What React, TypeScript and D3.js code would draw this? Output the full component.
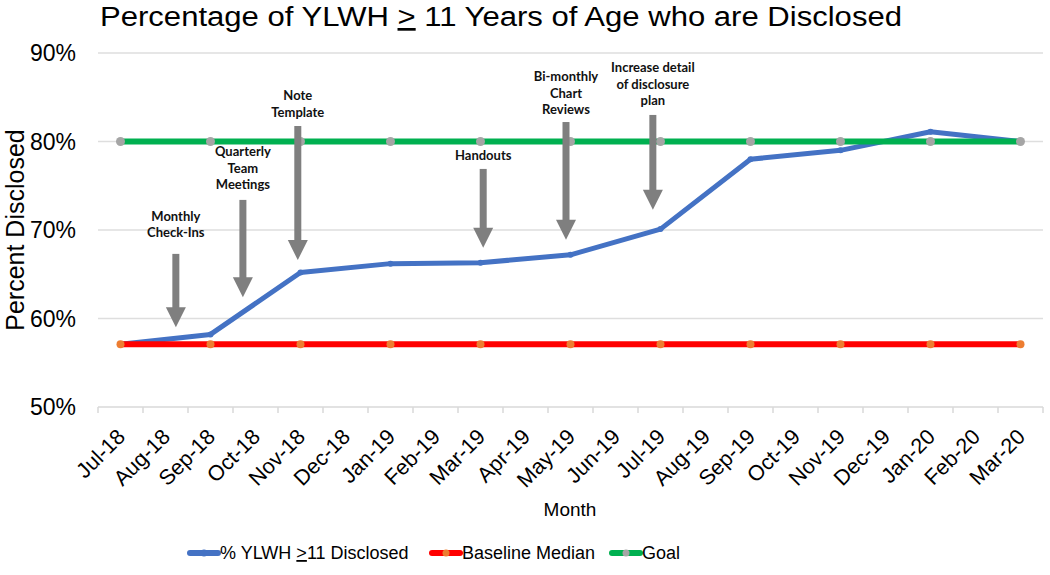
import { useEffect, useRef } from 'react';
import * as d3 from 'd3';

const months = [
  'Jul-18', 'Aug-18', 'Sep-18', 'Oct-18', 'Nov-18', 'Dec-18', 'Jan-19',
  'Feb-19', 'Mar-19', 'Apr-19', 'May-19', 'Jun-19', 'Jul-19', 'Aug-19',
  'Sep-19', 'Oct-19', 'Nov-19', 'Dec-19', 'Jan-20', 'Feb-20', 'Mar-20',
];

// months that have a measurement
const measuredMonths = [
  'Jul-18', 'Sep-18', 'Nov-18', 'Jan-19', 'Mar-19', 'May-19',
  'Jul-19', 'Sep-19', 'Nov-19', 'Jan-20', 'Mar-20',
];

const disclosed = [57.1, 58.2, 65.2, 66.2, 66.3, 67.2, 70.1, 78.0, 79.0, 81.1, 80.0];
const baselineMedian = [57.1, 57.1, 57.1, 57.1, 57.1, 57.1, 57.1, 57.1, 57.1, 57.1, 57.1];
const goal = [80, 80, 80, 80, 80, 80, 80, 80, 80, 80, 80];

const yTicks = [50, 60, 70, 80, 90];

// interventions: at = month index, values in percent
const annotations = [
  { lines: ['Monthly', 'Check-Ins'], at: 1.23, labelY: 71.6, top: 67.3, tip: 59.0 },
  { lines: ['Quarterly', 'Team', 'Meetings'], at: 2.72, labelY: 78.9, top: 73.4, tip: 62.4 },
  { lines: ['Note', 'Template'], at: 3.94, labelY: 85.25, top: 81.75, tip: 66.6 },
  { lines: ['Handouts'], at: 8.06, labelY: 78.5, top: 76.9, tip: 68.0 },
  { lines: ['Bi-monthly', 'Chart', 'Reviews'], at: 9.9, labelY: 87.4, top: 82.2, tip: 68.9 },
  { lines: ['Increase detail', 'of disclosure', 'plan'], at: 11.83, labelY: 88.4, top: 83.0, tip: 72.3 },
];

const series = [
  { key: 'disclosed', values: disclosed, color: '#4472C4', marker: '#4472C4', width: 5, r: 3 },
  { key: 'baseline', values: baselineMedian, color: '#FF0000', marker: '#ED7D31', width: 6, r: 4 },
  { key: 'goal', values: goal, color: '#00B050', marker: '#A5A5A5', width: 6, r: 4.5 },
];

const WIDTH = 1050;
const HEIGHT = 575;
const FONT = '"Liberation Sans", Arial, sans-serif';

const App = () => {
  const svgRef = useRef<SVGSVGElement>(null);

  useEffect(() => {
    const svg = d3.select(svgRef.current);
    svg.selectAll('*').remove();

    const left = 98;
    const right = 1043;
    const xScale = d3.scaleBand().domain(months).range([left, right]).padding(0);
    const xIndex = d3.scaleLinear().domain([0, months.length]).range([left, right]);
    const yScale = d3.scaleLinear().domain([50, 90]).range([407, 53]);
    const cx = (m: string) => (xScale(m) as number) + xScale.bandwidth() / 2;

    // title
    const title = svg
      .append('text')
      .attr('x', 100)
      .attr('y', 26)
      .attr('font-family', FONT)
      .attr('font-size', 27)
      .attr('textLength', 802)
      .attr('lengthAdjust', 'spacingAndGlyphs')
      .attr('fill', '#000');
    title.append('tspan').text('Percentage of YLWH ');
    title.append('tspan').attr('text-decoration', 'underline').text('>');
    title.append('tspan').text(' 11 Years of Age who are Disclosed');

    // grid
    svg
      .append('g')
      .selectAll('line')
      .data(yTicks.slice(1))
      .join('line')
      .attr('x1', left)
      .attr('x2', right)
      .attr('y1', (d) => yScale(d))
      .attr('y2', (d) => yScale(d))
      .attr('stroke', '#dedede')
      .attr('stroke-width', 1.5);

    // y labels
    svg
      .append('g')
      .selectAll('text')
      .data(yTicks)
      .join('text')
      .attr('x', 76)
      .attr('y', (d) => yScale(d))
      .attr('dy', '0.36em')
      .attr('text-anchor', 'end')
      .attr('font-family', FONT)
      .attr('font-size', 23)
      .text((d) => `${d}%`);

    svg
      .append('text')
      .attr('transform', `translate(24, ${yScale(70)}) rotate(-90)`)
      .attr('text-anchor', 'middle')
      .attr('font-family', FONT)
      .attr('font-size', 25)
      .text('Percent Disclosed');

    // x axis
    const xAxis = svg.append('g');
    xAxis
      .append('line')
      .attr('x1', left)
      .attr('x2', right)
      .attr('y1', yScale(50))
      .attr('y2', yScale(50))
      .attr('stroke', '#d9d9d9')
      .attr('stroke-width', 1.5);
    xAxis
      .selectAll('.tick')
      .data(d3.range(months.length + 1))
      .join('line')
      .attr('class', 'tick')
      .attr('x1', (i) => xIndex(i))
      .attr('x2', (i) => xIndex(i))
      .attr('y1', yScale(50))
      .attr('y2', yScale(50) + 6)
      .attr('stroke', '#d9d9d9')
      .attr('stroke-width', 1.5);
    xAxis
      .selectAll('.lbl')
      .data(months)
      .join('text')
      .attr('class', 'lbl')
      .attr('transform', (m) => `translate(${cx(m) + 6}, 438) rotate(-45)`)
      .attr('text-anchor', 'end')
      .attr('font-family', FONT)
      .attr('font-size', 21.5)
      .text((m) => m);

    svg
      .append('text')
      .attr('x', 570)
      .attr('y', 516)
      .attr('text-anchor', 'middle')
      .attr('font-family', FONT)
      .attr('font-size', 19)
      .text('Month');

    // series lines and markers
    series.forEach((s) => {
      const pts = s.values.map((v, i) => [cx(measuredMonths[i]), yScale(v)] as [number, number]);
      const g = svg.append('g');
      g.append('path')
        .attr('d', d3.line()(pts))
        .attr('fill', 'none')
        .attr('stroke', s.color)
        .attr('stroke-width', s.width)
        .attr('stroke-linejoin', 'round');
      g.selectAll('circle')
        .data(pts)
        .join('circle')
        .attr('cx', (d) => d[0])
        .attr('cy', (d) => d[1])
        .attr('r', s.r)
        .attr('fill', s.marker);
    });

    // intervention arrows
    const ann = svg.append('g').selectAll('g').data(annotations).join('g');
    const shaft = 7;
    const headW = 20;
    const headH = 20;
    ann
      .append('rect')
      .attr('x', (d) => xIndex(d.at + 0.5) - shaft / 2)
      .attr('y', (d) => yScale(d.top))
      .attr('width', shaft)
      .attr('height', (d) => yScale(d.tip) - yScale(d.top) - headH + 1)
      .attr('fill', '#7f7f7f');
    ann
      .append('path')
      .attr('d', (d) => {
        const x = xIndex(d.at + 0.5);
        const y = yScale(d.tip);
        return `M${x - headW / 2},${y - headH}L${x + headW / 2},${y - headH}L${x},${y}Z`;
      })
      .attr('fill', '#7f7f7f');
    ann.each(function (d) {
      const t = d3
        .select(this)
        .append('text')
        .attr('text-anchor', 'middle')
        .attr('font-family', 'Lato, "Open Sans", sans-serif')
        .attr('font-weight', 700)
        .attr('font-size', 13)
        .attr('fill', '#111');
      d.lines.forEach((line, i) => {
        t.append('tspan')
          .attr('x', xIndex(d.at + 0.5))
          .attr('y', yScale(d.labelY) + 5 + i * 16.5)
          .text(line);
      });
    });

    // legend
    const legendItems = [
      { s: series[0], x: 190, parts: ['%  YLWH ', '>', '11 Disclosed'] },
      { s: series[1], x: 432, parts: ['Baseline Median'] },
      { s: series[2], x: 612, parts: ['Goal'] },
    ];
    const lg = svg.append('g').selectAll('g').data(legendItems).join('g');
    lg.append('line')
      .attr('x1', (d) => d.x)
      .attr('x2', (d) => d.x + 28)
      .attr('y1', 553)
      .attr('y2', 553)
      .attr('stroke', (d) => d.s.color)
      .attr('stroke-width', 6)
      .attr('stroke-linecap', 'round');
    lg.append('circle')
      .attr('cx', (d) => d.x + 14)
      .attr('cy', 553)
      .attr('r', 3.5)
      .attr('fill', (d) => d.s.marker);
    lg.each(function (d) {
      const t = d3
        .select(this)
        .append('text')
        .attr('x', d.x + 30)
        .attr('y', 559)
        .attr('font-family', FONT)
        .attr('font-size', 18);
      d.parts.forEach((p) => {
        const sp = t.append('tspan').text(p);
        if (p === '>') sp.attr('text-decoration', 'underline');
      });
    });
  }, []);

  return (
    <svg
      ref={svgRef}
      width={WIDTH}
      height={HEIGHT}
      style={{ position: 'absolute', left: 0, top: 0, background: '#fff' }}
    />
  );
};

export default App;
